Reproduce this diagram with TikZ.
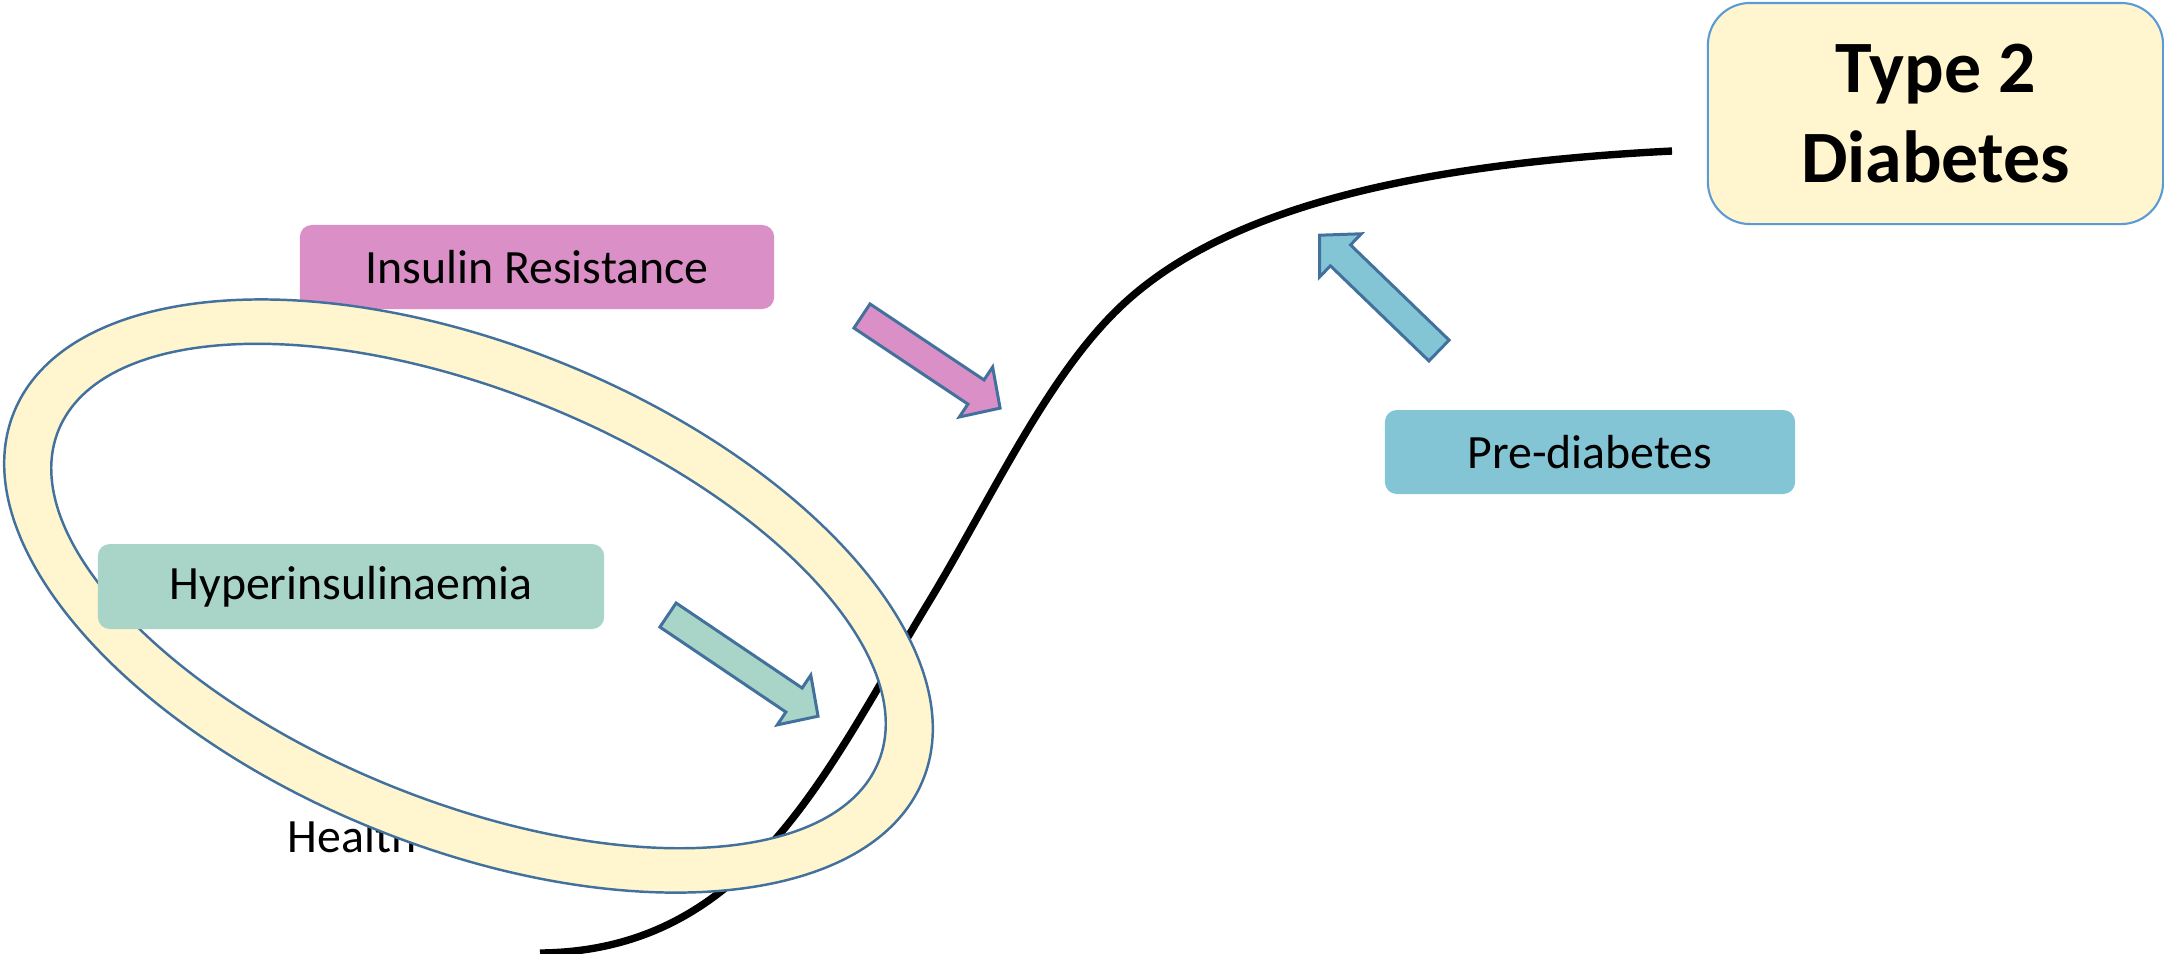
\documentclass[tikz,border=0pt]{standalone}
\usepackage{fontspec}
\setmainfont{Carlito}
\definecolor{pinkbox}{HTML}{DA8FC6}
\definecolor{greenbox}{HTML}{A9D5C8}
\definecolor{bluebox}{HTML}{83C5D4}
\definecolor{paleyellow}{HTML}{FFF5CE}
\definecolor{ringline}{HTML}{41719C}
\definecolor{tborder}{HTML}{5B9BD5}
\tikzset{
  labelbox/.style={rectangle, rounded corners=3.4pt, inner sep=0pt, font=\fontsize{13.6}{16.3}\selectfont},
  bigbox/.style={rectangle, rounded corners=12pt, draw=tborder, line width=0.6pt, fill=paleyellow, inner sep=0pt, align=center, font=\fontsize{21}{25.6}\selectfont\bfseries},
  sigmoid/.style={line width=2.1pt, black},
  ringedge/.style={draw=ringline, line width=0.7pt},
  blockarrowstyle/.style={draw=ringline, line width=0.85pt, line join=miter},
}
\newcommand\blockarrow[4]{%
  \begin{scope}[shift={(#1)}, rotate=#2]
    \filldraw[blockarrowstyle, fill=#4] (0,-14.5) -- ({#3-29},-14.5) -- ({#3-29},-30) -- (#3,0) -- ({#3-29},30) -- ({#3-29},14.5) -- (0,14.5) -- cycle;
  \end{scope}}
\begin{document}
\begin{tikzpicture}[x=0.01cm, y=-0.01cm]
\useasboundingbox (0,0) rectangle (2164,953);
% text partly hidden by the ring
\node[anchor=base west, inner sep=0pt, font=\fontsize{13.6}{16.3}\selectfont] (health) at (287,852) {Health};
% sigmoid curve
\coordinate (cstart) at (540,953);
\coordinate (cmid) at (930,600);
\coordinate (cknee) at (1117,310);
\coordinate (cend) at (1672,151);
\draw[sigmoid] (cstart) .. controls (750,951) and (826,771) .. (cmid)
  .. controls (992,497) and (1045.5,380) .. (cknee)
  .. controls (1206.4,222.5) and (1372,166) .. (cend);
% Insulin resistance box
\node[labelbox, fill=pinkbox, minimum width=4.74cm, minimum height=0.84cm] (ir) at (537,267) {Insulin Resistance};
% ring
\begin{scope}[shift={(468.5,596)}, rotate=-22]
  \fill[paleyellow, even odd rule] (0,0) ellipse [x radius=4.9cm, y radius=2.51cm] (0,0) ellipse [x radius=4.42cm, y radius=2.05cm];
  \draw[ringedge] (0,0) ellipse [x radius=4.9cm, y radius=2.51cm];
  \draw[ringedge] (0,0) ellipse [x radius=4.42cm, y radius=2.05cm];
\end{scope}
% other boxes
\node[labelbox, fill=greenbox, minimum width=5.06cm, minimum height=0.85cm] (hyper) at (351,586.5) {Hyperinsulinaemia};
\node[labelbox, fill=bluebox, minimum width=4.10cm, minimum height=0.84cm] (pre) at (1590,452) {Pre-diabetes};
\node[bigbox, minimum width=4.55cm, minimum height=2.21cm] (t2d) at (1935.5,113.5) {Type 2\\Diabetes};
% block arrows
\blockarrow{862,316}{-33.7}{166}{pinkbox}
\blockarrow{668,615}{-34}{181}{greenbox}
\blockarrow{1439,350.5}{136}{166}{bluebox}
\end{tikzpicture}
\end{document}
